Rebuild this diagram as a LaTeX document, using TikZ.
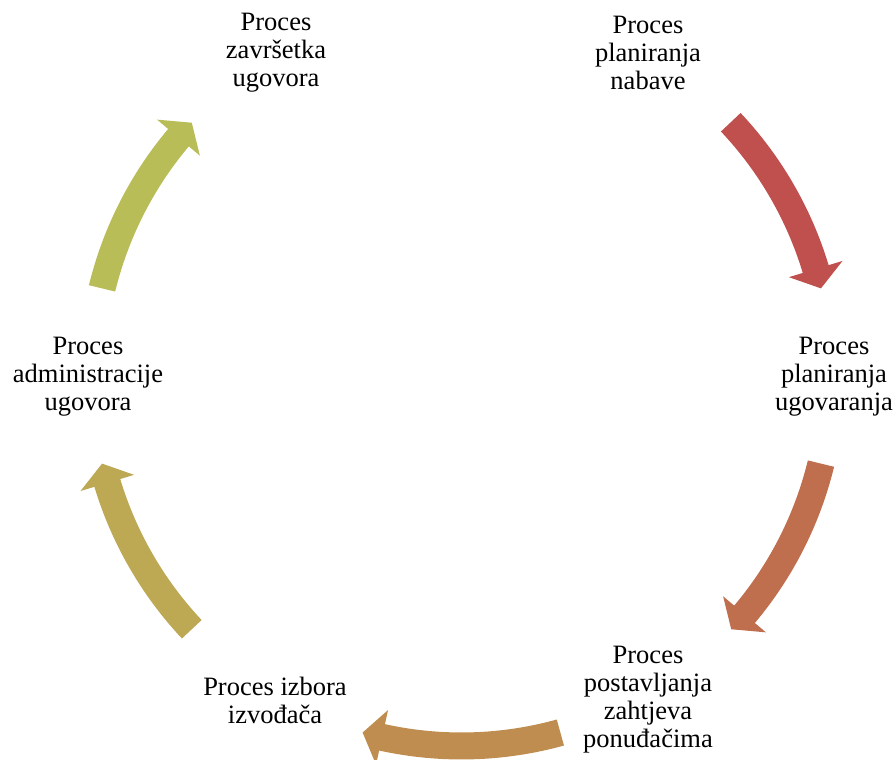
\documentclass[tikz,border=0pt]{standalone}
\usepackage{fontspec}
\setmainfont{Liberation Serif}
\usetikzlibrary{positioning,calc}
\definecolor{cycred}{HTML}{C0504D}
\definecolor{cycorange}{HTML}{C06F4E}
\definecolor{cycgold}{HTML}{BF8D50}
\definecolor{cycolive}{HTML}{BDA854}
\definecolor{cycgreen}{HTML}{B8BD58}
\tikzset{
  proc/.style={align=center, inner sep=0pt, font=\fontsize{26.5}{28}\selectfont},
}

\begin{document}
\begin{tikzpicture}[x=1pt, y=1pt]
  \useasboundingbox (0,0) rectangle (895,760);
  \coordinate (c) at (461.5,384);

  % process labels
  \node[proc] (nabava) at (648,707) {Proces\\planiranja\\nabave};
  \node[proc] (ugovaranje) at (834,383) {Proces\\planiranja\\ugovaranja};
  \node[proc] (zahtjevi) at (648,60) {Proces\\postavljanja\\zahtjeva\\ponuđačima};
  \node[proc] (izbor) at (275,60) {Proces izbora\\izvođača};
  \node[proc] (administracija) at (88,383) {Proces\\administracije\\ugovora};
  \node[proc] (zavrsetak) at (276,707) {Proces\\završetka\\ugovora};

  % curved arrows round the centre
  \begin{scope}[shift={(c)}]
    \foreach \ta/\tb/\col in {43.3/13.7/cycred, -13.7/-43.2/cycorange,
        -74.5/-105.5/cycgold, -136.8/-166.3/cycolive, 166.3/136.8/cycgreen}{
      \fill[\col] (\ta:383.5) arc[start angle=\ta, end angle=\tb+3.1, radius=383.5]
        -- (\tb+3.1:398) -- (\tb:370) -- (\tb+3.1:342)
        -- (\tb+3.1:356.5) arc[start angle=\tb+3.1, end angle=\ta, radius=356.5]
        -- cycle;
    }
  \end{scope}
\end{tikzpicture}
\end{document}
